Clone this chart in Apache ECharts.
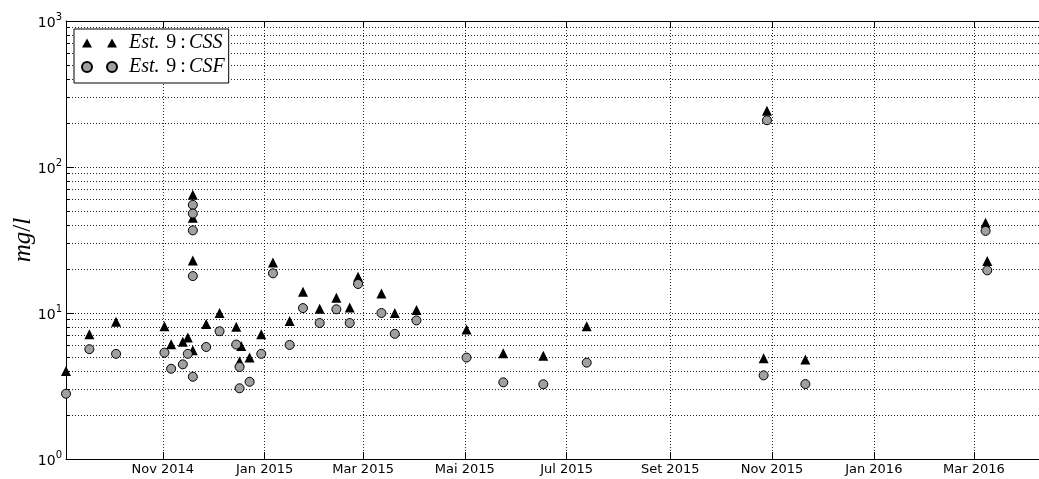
<!DOCTYPE html>
<html>
<head>
<meta charset="utf-8">
<script src="https://cdn.jsdelivr.net/npm/echarts@6/dist/echarts.min.js"></script>
<style>
  html, body { margin: 0; padding: 0; background: #fff; }
  #chart { width: 1039px; height: 479px; }
</style>
</head>
<body>
<div id="chart"></div>
<script>
// Station 9 samples: sampling dates and concentrations (mg/l)
const cssDates = [
  '2014-09-04', '2014-09-18', '2014-10-04', '2014-11-02', '2014-11-06', '2014-11-13',
  '2014-11-16', '2014-11-19', '2014-11-19', '2014-11-19', '2014-11-19', '2014-11-27',
  '2014-12-05', '2014-12-15', '2014-12-18', '2014-12-17', '2014-12-23', '2014-12-30',
  '2015-01-06', '2015-01-16', '2015-01-24', '2015-02-03', '2015-02-13', '2015-02-21',
  '2015-02-26', '2015-03-12', '2015-03-20', '2015-04-02', '2015-05-02', '2015-05-24',
  '2015-06-17', '2015-07-13', '2015-10-27', '2015-10-29', '2015-11-21', '2016-03-08',
  '2016-03-09'
];
const cssValues = [
  4.0, 7.15, 8.7, 8.1, 6.1, 6.35,
  6.8, 64.5, 45.0, 22.9, 5.55, 8.4,
  10.0, 8.05, 5.95, 4.65, 4.95, 7.15,
  22.2, 8.8, 14.0, 10.7, 12.7, 10.9,
  17.7, 13.6, 10.0, 10.5, 7.7, 5.3,
  5.1, 8.1, 4.9, 243, 4.8, 41.5,
  22.7
];
const csfDates = [
  '2014-09-04', '2014-09-18', '2014-10-04', '2014-11-02', '2014-11-06', '2014-11-13',
  '2014-11-16', '2014-11-19', '2014-11-19', '2014-11-19', '2014-11-19', '2014-11-19',
  '2014-11-27', '2014-12-05', '2014-12-15', '2014-12-17', '2014-12-17', '2014-12-23',
  '2014-12-30', '2015-01-06', '2015-01-16', '2015-01-24', '2015-02-03', '2015-02-13',
  '2015-02-21', '2015-02-26', '2015-03-12', '2015-03-20', '2015-04-02', '2015-05-02',
  '2015-05-24', '2015-06-17', '2015-07-13', '2015-10-27', '2015-10-29', '2015-11-21',
  '2016-03-08', '2016-03-09'
];
const csfValues = [
  2.8, 5.65, 5.25, 5.35, 4.15, 4.45,
  5.25, 55.0, 48.0, 36.8, 17.9, 3.66,
  5.85, 7.5, 6.08, 4.27, 3.05, 3.38,
  5.25, 18.7, 6.04, 10.8, 8.54, 10.6,
  8.54, 15.8, 10.0, 7.2, 8.9, 4.95,
  3.35, 3.25, 4.57, 3.74, 209, 3.26,
  36.5, 19.6
];

// Axis ticks
const xRange = ['2014-09-04', '2016-04-09'];
const xTickDates = [
  '2014-11-01', '2015-01-01', '2015-03-01', '2015-05-01', '2015-07-01',
  '2015-09-01', '2015-11-01', '2016-01-01', '2016-03-01'
];
const xTickLabels = [
  'Nov 2014', 'Jan 2015', 'Mar 2015', 'Mai 2015', 'Jul 2015',
  'Set 2015', 'Nov 2015', 'Jan 2016', 'Mar 2016'
];
const yMajorTicks = [1, 10, 100, 1000];
const yGridTicks = [
  1, 2, 3, 4, 5, 6, 7, 8, 9,
  10, 20, 30, 40, 50, 60, 70, 80, 90,
  100, 200, 300, 400, 500, 600, 700, 800, 900,
  1000
];

const seriesNames = ['Est. 9: CSS', 'Est. 9: CSF'];

function ts(d) {
  const p = d.split('-').map(Number);
  return Date.UTC(p[0], p[1] - 1, p[2]);
}

const xTickTs = xTickDates.map(ts);

const gridLine = { show: true, lineStyle: { color: '#000', width: 1, type: [1, 2], opacity: 0.85 } };
const serif = 'Liberation Serif';

const chart = echarts.init(document.getElementById('chart'), null, { renderer: 'canvas' });

chart.setOption({
  animation: false,
  backgroundColor: '#fff',
  grid: { left: 66, right: 0, top: 21, bottom: 20, containLabel: false },
  legend: {
    orient: 'vertical',
    left: 74,
    top: 29,
    backgroundColor: '#fff',
    borderColor: '#000',
    borderWidth: 1,
    borderRadius: 0,
    padding: [4, 4, 6, 7],
    itemGap: 4,
    itemWidth: 35,
    itemHeight: 10,
    selectedMode: false,
    data: [
      { name: seriesNames[0], icon: 'path://M0,9L5,0L10,9ZM25,9L30,0L35,9Z' },
      { name: seriesNames[1], icon: 'path://M0,5a5,5 0 1,0 10,0a5,5 0 1,0 -10,0ZM25,5a5,5 0 1,0 10,0a5,5 0 1,0 -10,0Z' }
    ],
    formatter: function (name) {
      const code = name.split(':')[1].trim();
      return '{i|Est.}  {r|9\u2009:} {i|' + code + '}';
    },
    textStyle: {
      padding: [0, 0, 0, 7],
      rich: {
        i: { fontFamily: serif, fontStyle: 'italic', fontSize: 20, color: '#000', lineHeight: 20 },
        r: { fontFamily: serif, fontSize: 20, color: '#000', lineHeight: 20 }
      }
    }
  },
  xAxis: [
    {
      type: 'value',
      position: 'bottom',
      min: ts(xRange[0]),
      max: ts(xRange[1]),
      axisLine: { show: true, onZero: false, lineStyle: { color: '#000', width: 1 } },
      axisTick: { show: true, inside: true, length: 7, customValues: xTickTs, lineStyle: { color: '#000' } },
      axisLabel: {
        customValues: xTickTs,
        margin: 4,
        color: '#000',
        fontFamily: 'DejaVu Sans',
        fontSize: 13,
        formatter: function (v) {
          const i = xTickTs.indexOf(v);
          return i >= 0 ? xTickLabels[i] : '';
        }
      },
      splitLine: gridLine
    },
    {
      type: 'value',
      position: 'top',
      min: ts(xRange[0]),
      max: ts(xRange[1]),
      axisLine: { show: true, onZero: false, lineStyle: { color: '#000', width: 1 } },
      axisTick: { show: true, inside: true, length: 7, customValues: xTickTs, lineStyle: { color: '#000' } },
      axisLabel: { show: false },
      splitLine: { show: false }
    }
  ],
  yAxis: [
    {
      type: 'log',
      logBase: 10,
      min: 1,
      max: 1000,
      position: 'left',
      name: '{i|mg}{r|/}{i|l}',
      nameLocation: 'middle',
      nameRotate: 90,
      nameGap: 30,
      nameMoveOverlap: false,
      nameTextStyle: {
        rich: {
          i: { fontFamily: serif, fontStyle: 'italic', fontSize: 25, color: '#000' },
          r: { fontFamily: serif, fontSize: 25, color: '#000' }
        }
      },
      axisLine: { show: true, onZero: false, lineStyle: { color: '#000', width: 1 } },
      axisTick: { show: true, inside: true, length: 4, customValues: yGridTicks, lineStyle: { color: '#000' } },
      axisLabel: {
        customValues: yMajorTicks,
        margin: 4,
        formatter: function (v) {
          const e = Math.round(Math.log10(v));
          return '{b|10}{s|' + e + '}';
        },
        rich: {
          b: { fontFamily: 'DejaVu Sans', fontSize: 14, color: '#000', lineHeight: 16, verticalAlign: 'bottom' },
          s: { fontFamily: 'DejaVu Sans', fontSize: 10, color: '#000', padding: [0, 0, 8, 0], verticalAlign: 'bottom' }
        }
      },
      splitLine: gridLine
    },
    {
      type: 'log',
      logBase: 10,
      min: 1,
      max: 1000,
      position: 'left',
      axisLine: { show: false },
      axisTick: { show: true, inside: true, length: 8, customValues: yMajorTicks, lineStyle: { color: '#000' } },
      axisLabel: { show: false },
      splitLine: { show: false }
    }
  ],
  series: [
    {
      name: seriesNames[0],
      type: 'scatter',
      xAxisIndex: 0,
      yAxisIndex: 0,
      symbol: 'triangle',
      symbolSize: 10,
      itemStyle: { color: '#000', opacity: 1 },
      emphasis: { disabled: true },
      z: 3,
      data: cssDates.map(function (d, i) { return [ts(d), cssValues[i]]; })
    },
    {
      name: seriesNames[1],
      type: 'scatter',
      xAxisIndex: 0,
      yAxisIndex: 0,
      symbol: 'circle',
      symbolSize: 9,
      itemStyle: { color: '#a0a0a0', borderColor: '#000', borderWidth: 1, opacity: 1 },
      emphasis: { disabled: true },
      z: 4,
      data: csfDates.map(function (d, i) { return [ts(d), csfValues[i]]; })
    }
  ]
});
</script>
</body>
</html>
